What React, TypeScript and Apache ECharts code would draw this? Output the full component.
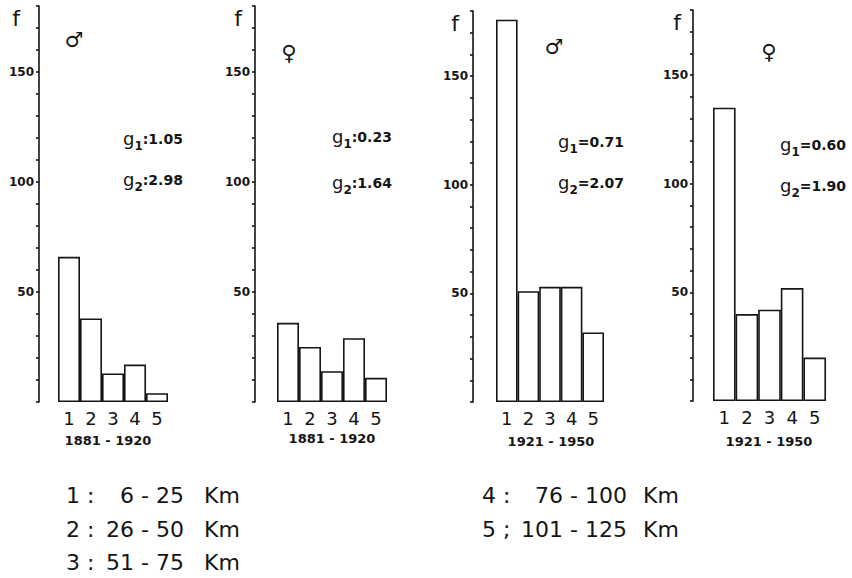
import React, { useEffect, useRef } from "react";
import * as echarts from "echarts";

const categories = ["1", "2", "3", "4", "5"];
const male1881 = [66, 38, 13, 17, 4];
const female1881 = [36, 25, 14, 29, 11];
const male1921 = [176, 51, 53, 53, 32];
const female1921 = [135, 40, 42, 52, 20];
const yTickLabels = [50, 100, 150];
const periods = ["1881 - 1920", "1881 - 1920", "1921 - 1950", "1921 - 1950"];
const sexes = ["♂", "♀", "♂", "♀"];
const g1Values = ["1.05", "0.23", "0.71", "0.60"];
const g2Values = ["2.98", "1.64", "2.07", "1.90"];
const gSeps = [":", ":", "=", "="];
const legendLeft = [["1 :", "6 - 25"], ["2 :", "26 - 50"], ["3 :", "51 - 75"]];
const legendRight = [["4 :", "76 - 100"], ["5 ;", "101 - 125"]];

const FONT = "DejaVu Sans";
const INK = "#151515";

export default function App() {
  const ref = useRef<HTMLDivElement>(null);
  useEffect(() => {
    if (!ref.current) return;
    const chart = echarts.init(ref.current, null, { renderer: "svg" });
    const series = [male1881, female1881, male1921, female1921];
    const panels = [
      { left: 58, width: 110, top: 6, zero: 402, offset: 19 },
      { left: 277, width: 110, top: 6, zero: 402, offset: 22 },
      { left: 496, width: 108, top: 11, zero: 402, offset: 23 },
      { left: 713, width: 113, top: 10, zero: 401, offset: 20 },
    ];
    const grids = panels.map((p) => ({
      left: p.left,
      width: p.width,
      top: p.top,
      height: p.zero - p.top,
    }));
    const xAxes = panels.map((_, i) => ({
      type: "category",
      gridIndex: i,
      data: categories,
      axisLine: { show: false },
      axisTick: { show: false },
      axisLabel: { color: INK, fontSize: 18, fontFamily: FONT, margin: 7 },
    }));
    const yAxes = panels.map((p, i) => ({
      type: "value",
      gridIndex: i,
      min: 0,
      max: 180,
      interval: 10,
      offset: p.offset,
      axisLine: { show: true, lineStyle: { color: INK, width: 1.6 } },
      axisTick: { show: true, length: 3, lineStyle: { color: INK, width: 1.6 } },
      splitLine: { show: false },
      axisLabel: {
        color: INK,
        fontSize: 12,
        fontWeight: "bold",
        fontFamily: FONT,
        margin: 5,
        formatter: (v: number) => (yTickLabels.includes(v) ? String(v) : ""),
      },
    }));
    const barSeries = series.map((d, i) => ({
      type: "bar",
      xAxisIndex: i,
      yAxisIndex: i,
      data: d,
      barCategoryGap: "0%",
      itemStyle: { color: "#ffffff", borderColor: INK, borderWidth: 1.6 },
      silent: true,
    }));

    const fPos = [[16, 18], [238, 18], [455, 23], [677, 22]];
    const sexPos = [[74, 40], [289, 53], [554, 47], [769, 52]];
    const gPos = [[123, 140, 181], [332, 138, 184], [558, 143, 184], [780, 146, 187]];
    const yearPos = [[108, 440], [332, 438], [551, 441], [769, 441]];

    const texts: any[] = [];
    for (let i = 0; i < 4; i++) {
      texts.push({
        type: "text",
        x: fPos[i][0],
        y: fPos[i][1],
        style: { text: "f", fontSize: 22, fontFamily: FONT, fill: INK, align: "center", verticalAlign: "middle" },
      });
      texts.push({
        type: "text",
        x: sexPos[i][0],
        y: sexPos[i][1],
        style: { text: sexes[i], fontSize: 21, fontWeight: "bold", fontFamily: FONT, fill: INK, align: "center", verticalAlign: "middle" },
      });
      const rich = {
        m: { fontSize: 18, fontFamily: FONT, fill: INK, lineHeight: 18, verticalAlign: "top" },
        v: { fontSize: 14, fontWeight: "bold", fontFamily: FONT, fill: INK, lineHeight: 18, verticalAlign: "top", padding: [3, 0, 0, 0] },
        s: { fontSize: 12, fontWeight: "bold", fontFamily: FONT, fill: INK, lineHeight: 12, verticalAlign: "top", padding: [11, 0, 0, 0] },
      };
      texts.push({
        type: "text",
        x: gPos[i][0],
        y: gPos[i][1] - 11,
        style: { text: `{m|g}{s|1}{v|${gSeps[i]}${g1Values[i]}}`, rich, fill: INK },
      });
      texts.push({
        type: "text",
        x: gPos[i][0],
        y: gPos[i][2] - 11,
        style: { text: `{m|g}{s|2}{v|${gSeps[i]}${g2Values[i]}}`, rich, fill: INK },
      });
      texts.push({
        type: "text",
        x: yearPos[i][0],
        y: yearPos[i][1],
        style: { text: periods[i], fontSize: 13, fontWeight: "bold", fontFamily: FONT, fill: INK, align: "center", verticalAlign: "middle" },
      });
    }
    const rowsY = [495, 529, 562];
    const legStyle = { fontSize: 22, fontFamily: FONT, fill: INK, verticalAlign: "middle" };
    legendLeft.forEach((r, k) => {
      texts.push({ type: "text", x: 66, y: rowsY[k], style: { ...legStyle, text: r[0], align: "left" } });
      texts.push({ type: "text", x: 184, y: rowsY[k], style: { ...legStyle, text: r[1], align: "right" } });
      texts.push({ type: "text", x: 204, y: rowsY[k], style: { ...legStyle, text: "Km", align: "left" } });
    });
    legendRight.forEach((r, k) => {
      texts.push({ type: "text", x: 482, y: rowsY[k], style: { ...legStyle, text: r[0], align: "left" } });
      texts.push({ type: "text", x: 627, y: rowsY[k], style: { ...legStyle, text: r[1], align: "right" } });
      texts.push({ type: "text", x: 643, y: rowsY[k], style: { ...legStyle, text: "Km", align: "left" } });
    });

    chart.setOption({
      animation: false,
      backgroundColor: "#ffffff",
      grid: grids,
      xAxis: xAxes,
      yAxis: yAxes,
      series: barSeries,
      graphic: { elements: texts },
    });
    return () => chart.dispose();
  }, []);
  return (
    <div
      ref={ref}
      style={{ position: "fixed", left: 0, top: 0, width: 852, height: 578, background: "#fff" }}
    />
  );
}
